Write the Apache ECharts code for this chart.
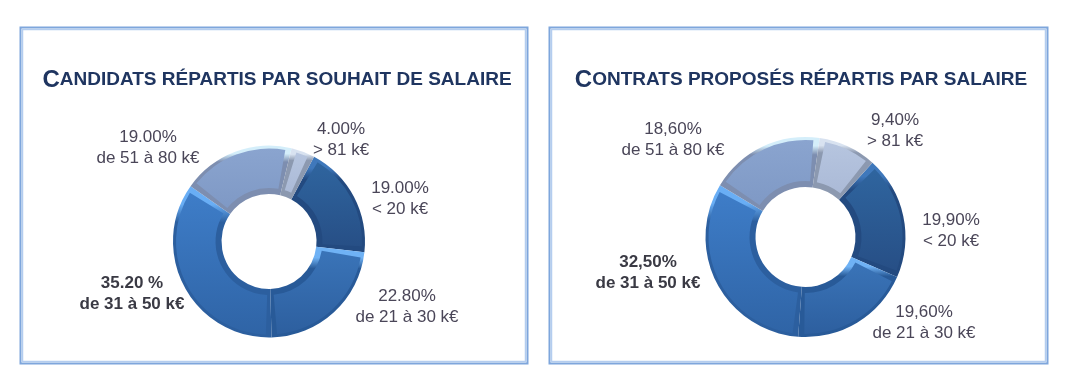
<!DOCTYPE html>
<html><head><meta charset="utf-8">
<style>html,body{margin:0;padding:0;background:#fff}#c{width:1065px;height:390px}</style>
<script src="https://cdn.jsdelivr.net/npm/echarts@6/dist/echarts.min.js"></script>
</head><body><div id="c"></div>
<script>
const categories = ['< 20 k€', 'de 21 à 30 k€', 'de 31 à 50 k€', 'de 51 à 80 k€', '> 81 k€'];
const candidatsValues = [19.0, 22.8, 35.2, 19.0, 4.0];
const contratsValues = [19.9, 19.6, 32.5, 18.6, 9.4];
const candidatsPct = ['19.00%', '22.80%', '35.20 %', '19.00%', '4.00%'];
const contratsPct = ['19,90%', '19,60%', '32,50%', '18,60%', '9,40%'];
const candidatsTitle = ['C', 'ANDIDATS RÉPARTIS PAR SOUHAIT DE SALAIRE'];
const contratsTitle = ['C', 'ONTRATS PROPOSÉS RÉPARTIS PAR SALAIRE'];

const candidatsLabelPos = [[400,199],[407,307],[132,294],[148,148],[341,140]];
const contratsLabelPos = [[951,231],[924,323],[648,273],[673,140],[895,131]];

const faceCols = [['#2f659f','#274f86'],['#3a74b8','#2d5f9f'],['#3e7dc8','#2f64a6'],['#8aa4cf','#7f99c5'],['#b6c5df','#abbad7']];
const edgeCols = [['#3f78bb','#234a80'],['#6fb2f5','#285a98'],['#69aef5','#2c5f9f'],['#d4eefa','#7d8eb0'],['#d8e2f0','#8c99b0']];
const inkCol = '#4a4658';

function grad(a, b) {
  return {type:'linear',x:0,y:0,x2:0,y2:1,colorStops:[{offset:0,color:a},{offset:1,color:b}]};
}
function edgeGrad(a, b) {
  return {type:'linear',x:0,y:0,x2:0,y2:1,colorStops:[{offset:0,color:a},{offset:0.12,color:a},{offset:0.24,color:b},{offset:1,color:b}]};
}
function donut(values, pct, pos, cx, cy, ro, ri, startAngle) {
  const base = {
    type:'pie', silent:true, center:[cx,cy], radius:[ri,ro], startAngle, clockwise:true, z:2,
    label:{show:false}, labelLine:{show:false}, animation:false,
    data:values.map((v,i)=>({value:v,name:categories[i],itemStyle:{color:edgeGrad(edgeCols[i][0],edgeCols[i][1])}}))
  };
  const face = {
    type:'pie', silent:true, center:[cx,cy], radius:[ri+6,ro-3], startAngle:startAngle, padAngle:7, clockwise:true, z:3, animation:false,
    labelLine:{show:false},
    label:{show:true,position:'outside',color:inkCol,fontFamily:'Liberation Sans',fontSize:17,lineHeight:21.5,align:'center',
      formatter:p=>pct[p.dataIndex]+'\n'+categories[p.dataIndex]},
    labelLayout:p=>({x:pos[p.dataIndex][0],y:pos[p.dataIndex][1],align:'center',verticalAlign:'middle'}),
    data:values.map((v,i)=>({value:v,name:categories[i],itemStyle:{color:grad(faceCols[i][0],faceCols[i][1])},
      label:i===2?{fontWeight:'bold',color:'#3a3a44'}:undefined}))
  };
  return [base,face];
}
function panel(x,y,w,h){
  return [
    {type:'rect',shape:{x:x+.5,y:y+.5,width:w,height:h},style:{fill:'#fff',stroke:'#7ea6dc',lineWidth:2}},
    {type:'rect',shape:{x:x+2.5,y:y+2.5,width:w-4,height:h-4},style:{fill:'#fff',stroke:'#b4cdef',lineWidth:1.5}}
  ];
}
function title(t,cx,top){
  return {text:'{a|'+t[0]+'}{b|'+t[1]+'}',left:cx,top,textAlign:'center',
    textStyle:{rich:{a:{fontFamily:'Liberation Sans',fontWeight:'bold',fontSize:24,color:'#1f3560'},
                     b:{fontFamily:'Liberation Sans',fontWeight:'bold',fontSize:19,color:'#1f3560'}}}};
}
const chart = echarts.init(document.getElementById('c'),null,{renderer:'canvas'});
chart.setOption({
  backgroundColor:'#fff', animation:false,
  title:[title(candidatsTitle,272,63),title(contratsTitle,796,63)],
  graphic:{elements:[...panel(20,27,507,336),...panel(549,27,498,336)]},
  series:[
    ...donut(candidatsValues,candidatsPct,candidatsLabelPos,269,241.5,96,47.5,62),
    ...donut(contratsValues,contratsPct,contratsLabelPos,805.5,237,100,50,48)
  ]
});
</script></body></html>
